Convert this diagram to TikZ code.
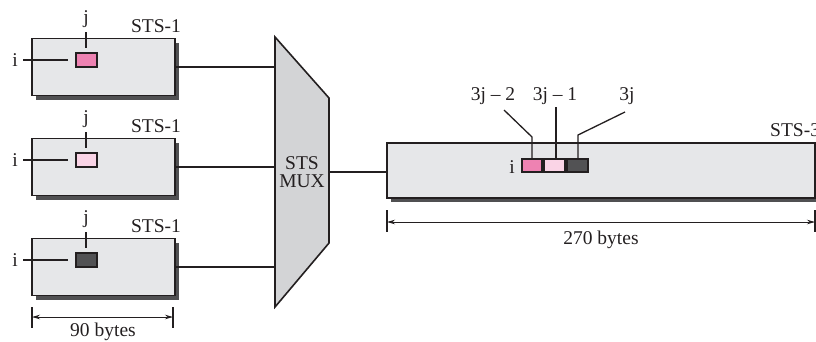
\documentclass[tikz,border=0pt]{standalone}
\usepackage{fontspec}
\setmainfont{Liberation Serif}
\usetikzlibrary{shadows,arrows.meta}
\definecolor{boxfill}{RGB}{230,231,233}
\definecolor{muxfill}{RGB}{211,212,214}
\definecolor{shadowc}{RGB}{80,80,82}
\definecolor{pinkA}{RGB}{238,130,178}
\definecolor{pinkB}{RGB}{250,212,230}
\definecolor{darkC}{RGB}{82,82,84}
\definecolor{linec}{RGB}{35,31,32}
\tikzset{
  frame/.style={draw=linec, line width=1.5pt, fill=boxfill, inner sep=0pt,
    drop shadow={shadow xshift=4pt, shadow yshift=-4pt, fill=shadowc, opacity=1}},
  cell/.style={draw=linec, line width=1.4pt, inner sep=0pt, minimum width=21pt, minimum height=14pt},
  wire/.style={draw=linec, line width=2pt},
  thin/.style={draw=linec, line width=1.3pt},
  lbl/.style={inner sep=0pt, font=\fontsize{19.5}{21}\selectfont, text=linec},
  dim/.style={draw=linec, line width=0.8pt, {Stealth[length=8pt,width=4.5pt]}-{Stealth[length=8pt,width=4.5pt]}},
  tick/.style={draw=linec, line width=1.2pt}
}
\begin{document}
\begin{tikzpicture}[x=1pt,y=-1pt]
\useasboundingbox (0,0) rectangle (816,341);
% STS-1 frames
\foreach \k/\c/\yy in {1/pinkA/0, 2/pinkB/100, 3/darkC/200}{
  \node[frame, minimum width=143pt, minimum height=57pt] (b\k) at (103.5,67+\yy) {};
  \node[cell, fill=\c] (c\k) at (86.5,60+\yy) {};
  \node[lbl] (j\k) at (86,19+\yy) {j};
  \node[lbl] (i\k) at (15,60+\yy) {i};
  \node[lbl] (s\k) at (156,26+\yy) {STS-1};
  \coordinate (jt\k) at (86,32+\yy);
  \coordinate (jb\k) at (86,48+\yy);
  \coordinate (il\k) at (23,60+\yy);
  \coordinate (ir\k) at (68,60+\yy);
  \draw[thin] (jt\k) -- (jb\k);
  \draw[thin] (il\k) -- (ir\k);
}
% MUX
\coordinate (m1) at (275,37);
\coordinate (m2) at (329,98);
\coordinate (m3) at (329,243);
\coordinate (m4) at (275,307);
\draw[fill=muxfill, draw=linec, line width=1.6pt, line join=miter] (m1) -- (m2) -- (m3) -- (m4) -- cycle;
\node[lbl, align=center] (mux) at (302,172) {STS\\[-3pt]MUX};
\foreach \k in {1,2,3}{
  \draw[wire] (b\k.east) -- (b\k.east -| m1);
}
% STS-3 frame
\node[frame, minimum width=428pt, minimum height=55pt] (big) at (601,170.5) {};
\node[lbl, anchor=west] (s3) at (770,130) {STS-3};
\coordinate (mo) at (329,172);
\draw[wire] (mo) -- (mo -| big.west);
\node[cell, fill=pinkA, minimum width=20pt, minimum height=13pt] (d1) at (532,165.5) {};
\node[cell, fill=pinkB, minimum width=21pt, minimum height=13pt] (d2) at (554.5,165.5) {};
\node[cell, fill=darkC, minimum width=21pt, minimum height=13pt] (d3) at (577.5,165.5) {};
\node[lbl] (ib) at (512,167) {i};
\node[lbl] (t1) at (493,96) {3j – 2};
\node[lbl] (t2) at (555,96) {3j – 1};
\node[lbl] (t3) at (627,96) {3j};
\coordinate (p1) at (504,110);
\coordinate (q1) at (532,137);
\coordinate (p2) at (556,107);
\coordinate (p3) at (625,112);
\coordinate (q3) at (578,135);
\draw[thin] (p1) -- (q1) -- (d1.north -| q1);
\draw[thin] (p2) -- (d2.north -| p2);
\draw[thin] (p3) -- (q3) -- (d3.north -| q3);
% dimensions
\coordinate (a1) at (32,307);
\coordinate (a2) at (32,328);
\coordinate (a3) at (173,307);
\coordinate (a4) at (173,328);
\draw[tick] (a1) -- (a2);
\draw[tick] (a3) -- (a4);
\coordinate (da) at (32,317);
\coordinate (db) at (173,317);
\draw[dim] (da) -- (db);
\node[lbl] (l90) at (103,332) {90 bytes};
\coordinate (e1) at (387,210);
\coordinate (e2) at (387,232);
\coordinate (e3) at (815,210);
\coordinate (e4) at (815,232);
\draw[tick] (e1) -- (e2);
\draw[tick] (e3) -- (e4);
\coordinate (ea) at (387,222);
\coordinate (eb) at (815,222);
\draw[dim] (ea) -- (eb);
\node[lbl] (l270) at (601,240) {270 bytes};
\end{tikzpicture}
\end{document}
